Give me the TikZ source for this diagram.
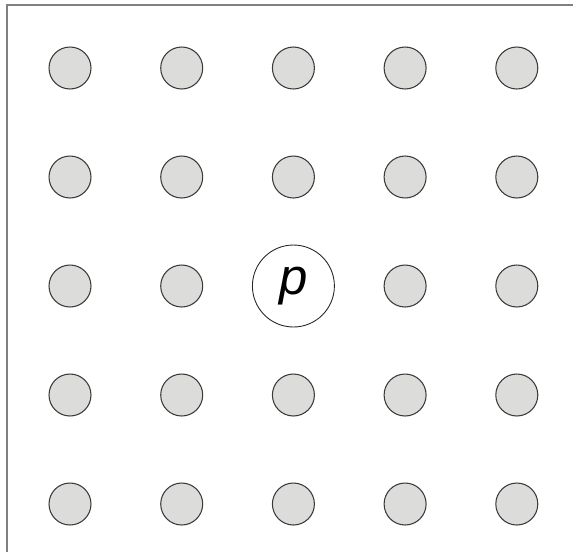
\documentclass[tikz,border=0pt]{standalone}
\usepackage{fontspec}
\setsansfont{Liberation Sans}
\usepackage{tikz}
\usetikzlibrary{positioning}
\definecolor{catGrisPunto}{HTML}{DCDCDB}
\definecolor{catGrisBorde}{HTML}{3A3A3A}
\definecolor{catGrisMarco}{HTML}{808080}

\begin{document}
\begin{tikzpicture}[x=0.02cm, y=-0.02cm,
        punto/.style={circle, draw=catGrisBorde, line width=0.6pt, fill=catGrisPunto,
            minimum size=0.84cm, inner sep=0pt},
        puntoCentral/.style={circle, draw=black!85, line width=0.5pt, fill=white,
            minimum size=1.64cm, inner sep=0pt, font=\sffamily\itshape\fontsize{29}{32}\selectfont},
        marco/.style={draw=catGrisMarco, line width=1.1pt}
    ]
        \useasboundingbox (0, 0) rectangle (573, 552);
        \coordinate (esquina) at (7, 5);
        \draw[marco] (7, 552) -- (esquina) -- (573, 5);

        \foreach \i in {0,...,4} {
            \foreach \j in {0,...,4} {
                \pgfmathtruncatemacro{\esCentro}{(\i==2)&&(\j==2)}
                \ifnum\esCentro=0
                    \node[punto] (punto-\i-\j) at ({70 + 111.7*\i}, {68 + 109*\j}) {};
                \fi
            }
        }
        \node[puntoCentral] (p) at (293.4, 286) {p};
    \end{tikzpicture}
\end{document}
